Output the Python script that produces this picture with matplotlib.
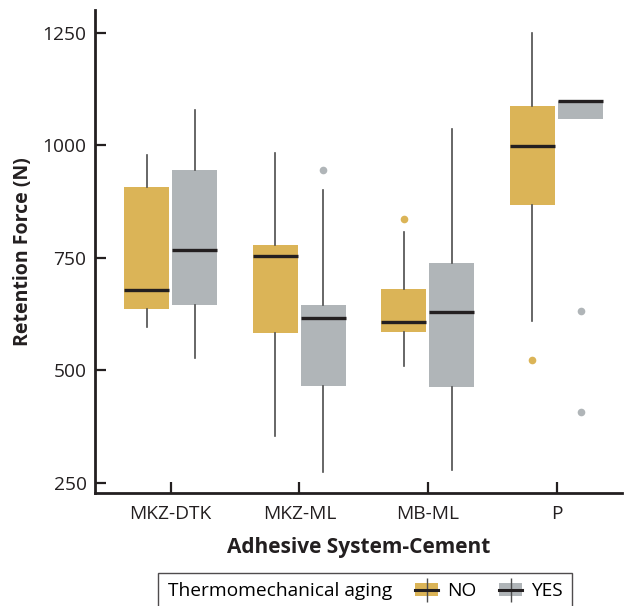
import matplotlib
matplotlib.use("Agg")
import matplotlib.pyplot as plt
from matplotlib.patches import Patch
from matplotlib.lines import Line2D
from matplotlib.legend_handler import HandlerTuple

plt.rcParams['font.family'] = ['Open Sans', 'DejaVu Sans']

categories = ["MKZ-DTK", "MKZ-ML", "MB-ML", "P"]
groups = ["NO", "YES"]

# five-number summaries: whislo, q1, med, q3, whishi
no_whislo = [597, 355, 510, 610]
no_q1 = [637, 584, 586, 868]
no_med = [679, 754, 607, 998]
no_q3 = [907, 778, 681, 1087]
no_whishi = [978, 982, 808, 1249]
no_fliers = [[], [], [836], [524]]

yes_whislo = [528, 275, 279, 1059]
yes_q1 = [646, 466, 464, 1059]
yes_med = [767, 617, 630, 1099]
yes_q3 = [944, 645, 739, 1099]
yes_whishi = [1077, 901, 1035, 1099]
yes_fliers = [[], [944], [], [633, 407]]

yticks = [250, 500, 750, 1000, 1250]

colors = {"NO": "#dbb457", "YES": "#b0b5b8"}
ink = "#231f20"


def make_stats(lo, q1, med, q3, hi, fl):
    return [dict(whislo=a, q1=b, med=c, q3=d, whishi=e, fliers=f)
            for a, b, c, d, e, f in zip(lo, q1, med, q3, hi, fl)]


series = {
    "NO": make_stats(no_whislo, no_q1, no_med, no_q3, no_whishi, no_fliers),
    "YES": make_stats(yes_whislo, yes_q1, yes_med, yes_q3, yes_whishi, yes_fliers),
}

fig = plt.figure(figsize=(6.24, 6.06), dpi=100)
ax = fig.add_axes([0.152, 0.1865, 0.845, 0.797])

offsets = {"NO": -0.187, "YES": 0.187}
for g in groups:
    pos = [i + offsets[g] for i in range(len(categories))]
    ax.bxp(series[g], positions=pos, widths=0.35, patch_artist=True,
           showcaps=False,
           boxprops=dict(facecolor=colors[g], edgecolor="none", linewidth=0),
           medianprops=dict(color=ink, linewidth=2.4, solid_capstyle="butt"),
           whiskerprops=dict(color="#4d4d4d", linewidth=1.2),
           flierprops=dict(marker="o", markersize=5.5, markerfacecolor=colors[g],
                           markeredgecolor="none"))

ax.set_xlim(-0.59, 3.51)
ax.set_ylim(228, 1300)
ax.set_xticks(range(len(categories)))
ax.set_xticklabels(categories)
ax.set_yticks(yticks)
ax.spines[["top", "right"]].set_visible(False)
for s in ["left", "bottom"]:
    ax.spines[s].set_linewidth(2)
    ax.spines[s].set_color(ink)
ax.tick_params(direction="in", length=8, width=1.6, color=ink,
               labelsize=13.8, labelcolor=ink, pad=6)
ax.tick_params(axis="x", pad=9)
ax.set_xlabel("Adhesive System-Cement", fontsize=15, fontweight="bold",
              color=ink, labelpad=10)
ax.set_ylabel("Retention Force (N)", fontsize=14, fontweight="bold",
              color=ink, labelpad=7)

handles = []
for g in groups:
    handles.append((Patch(facecolor=colors[g], edgecolor="none"),
                    Line2D([], [], color="#4d4d4d", marker="|", markersize=17,
                           linestyle="none", markeredgewidth=1),
                    Line2D([], [], color=ink, linewidth=2.2)))
leg = fig.legend(handles, groups, title="Thermomechanical aging", ncol=2,
                 handler_map={tuple: HandlerTuple(ndivide=1, pad=0)},
                 loc="upper left", bbox_to_anchor=(0.254, 0.055),
                 borderaxespad=0,
                 fontsize=13.8, title_fontsize=13.8, frameon=True,
                 fancybox=False, edgecolor=ink, handlelength=1.2,
                 handletextpad=0.45, columnspacing=1.2, borderpad=0.5)
leg.get_frame().set_linewidth(1.0)
# put the title on the same row as the entries
box = leg.get_children()[0]
title_box, entries_box = box.get_children()[0], box.get_children()[1]
box._children = [entries_box]
entries_box._children = [title_box] + entries_box.get_children()

fig.savefig("out.png", dpi=100)
